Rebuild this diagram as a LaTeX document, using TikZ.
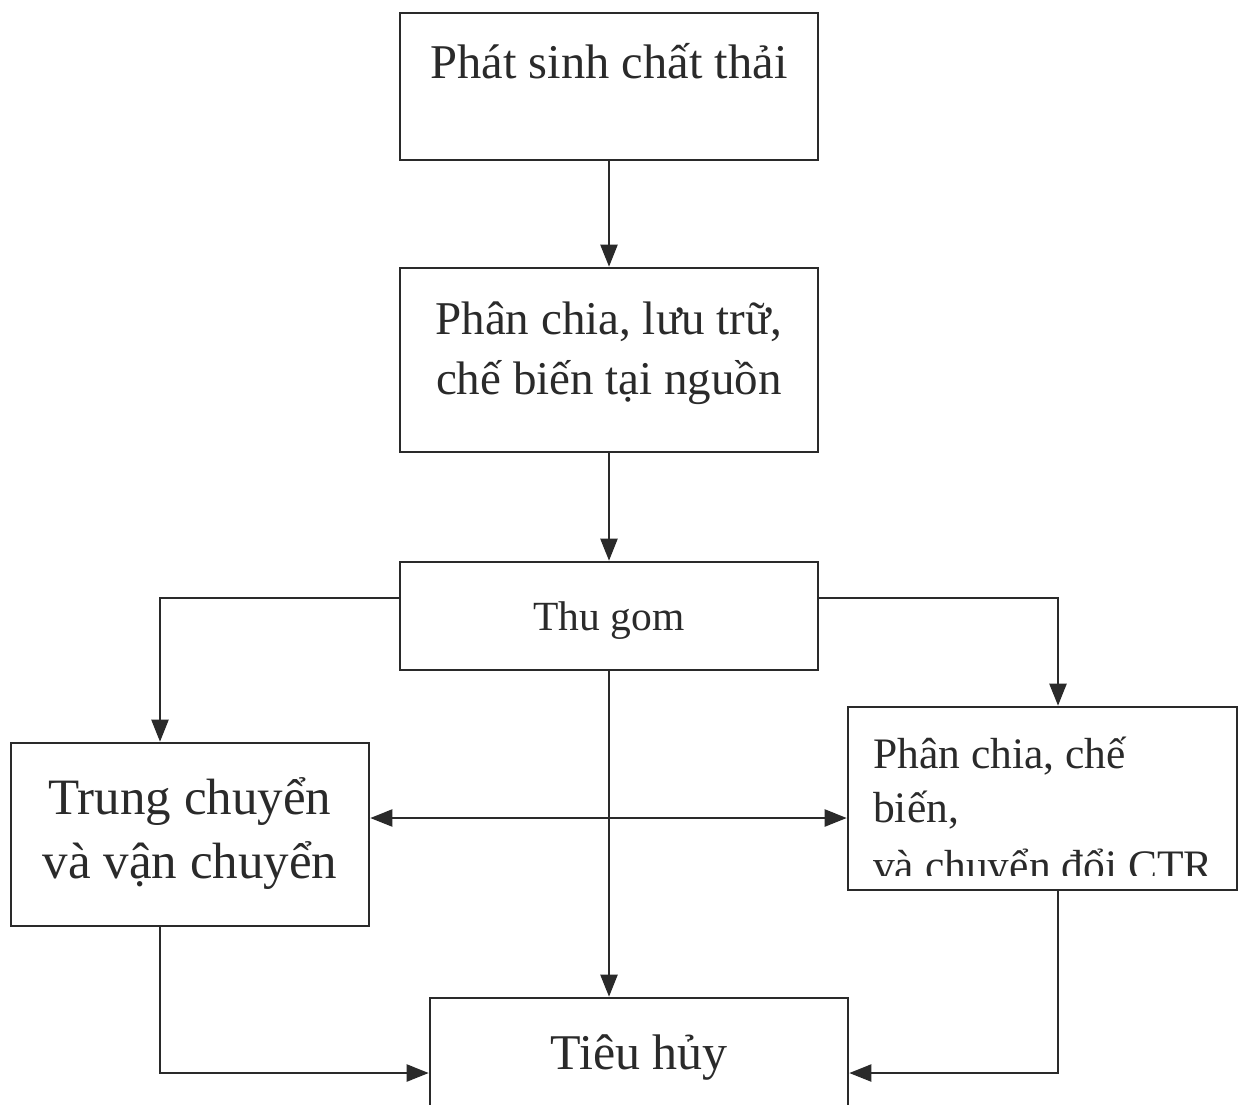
\documentclass[tikz,border=0pt]{standalone}
\usepackage{fontspec}
\setmainfont{Liberation Serif}
\usetikzlibrary{arrows.meta}
\definecolor{ink}{HTML}{2A2A2A}
\tikzset{
  box/.style={draw=ink, line width=2.6pt, inner sep=0pt, fill=none},
  lbl/.style={anchor=base, inner sep=0pt, text=ink},
  lblw/.style={anchor=base west, inner sep=0pt, text=ink},
  conn/.style={draw=ink, line width=2.2pt, -{Triangle[length=22pt,width=17pt]}},
  dconn/.style={draw=ink, line width=2.2pt, {Triangle[length=22pt,width=17pt]}-{Triangle[length=22pt,width=17pt]}}
}
\begin{document}
\begin{tikzpicture}[x=1pt,y=-1pt]
\useasboundingbox (0,0) rectangle (1246,1104);
\fill[white] (0,0) rectangle (1246,1104);
% boxes
\node[box, minimum width=418pt, minimum height=147pt] (b1) at (609,86.5) {};
\node[box, minimum width=418pt, minimum height=184pt] (b2) at (609,360) {};
\node[box, minimum width=418pt, minimum height=108pt] (b3) at (609,616) {};
\node[box, minimum width=358pt, minimum height=183pt] (b4) at (190,834.5) {};
\node[box, minimum width=389pt, minimum height=183pt] (b5) at (1042.5,798.5) {};
\node[box, minimum width=418pt, minimum height=117pt] (b6) at (639,1056.5) {};
% texts
\node[lbl, font=\fontsize{48.5}{56}\selectfont] (t1) at (609,78) {Phát sinh chất thải};
\node[lbl, font=\fontsize{47}{56}\selectfont] (t2a) at (609,334) {Phân chia, lưu trữ,};
\node[lbl, font=\fontsize{47}{56}\selectfont] (t2b) at (609,394) {chế biến tại nguồn};
\node[lbl, font=\fontsize{41.5}{48}\selectfont] (t3) at (609,630) {Thu gom};
\node[lbl, font=\fontsize{51}{58}\selectfont] (t4a) at (190,814) {Trung chuyển};
\node[lbl, font=\fontsize{51}{58}\selectfont] (t4b) at (190,878) {và vận chuyển};
\begin{scope}
\clip (848,707) rectangle (1237,875);
\node[lblw, font=\fontsize{43.5}{50}\selectfont] (t5a) at (873,768) {Phân chia, chế};
\node[lblw, font=\fontsize{43.5}{50}\selectfont] (t5b) at (873,822) {biến,};
\node[lblw, font=\fontsize{43.5}{50}\selectfont] (t5c) at (873,880) {và chuyển đổi CTR};
\end{scope}
\node[lbl, font=\fontsize{50}{58}\selectfont] (t6) at (639,1069) {Tiêu hủy};
% helper coordinates
\coordinate (mid) at (609,818);
\coordinate (low) at (0,1073);
% connectors
\draw[conn] (b1.south) -- (b2.north);
\draw[conn] (b2.south) -- (b3.north);
\draw[conn] ([yshift=18pt]b3.west) -| ([xshift=-30pt]b4.north);
\draw[conn] ([yshift=18pt]b3.east) -| ([xshift=15.5pt]b5.north);
\draw[conn] (b3.south) -- (b3.south |- b6.north);
\draw[dconn] (b4.east |- mid) -- (b5.west |- mid);
\draw[conn] ([xshift=-30pt]b4.south) |- (b6.west |- low);
\draw[conn] ([xshift=15.5pt]b5.south) |- (b6.east |- low);
\end{tikzpicture}
\end{document}
